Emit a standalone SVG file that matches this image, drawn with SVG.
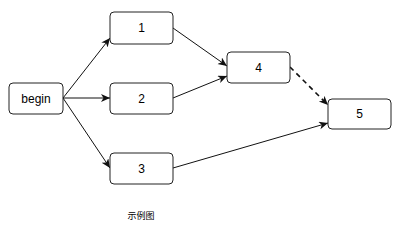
<svg xmlns="http://www.w3.org/2000/svg" width="400" height="225" viewBox="0 0 400 225">
<style>
.n rect{fill:#fff;stroke:#222;stroke-width:1}
.n text{font-family:"Liberation Sans",Arial,sans-serif;font-size:12px;fill:#000;text-anchor:middle;dominant-baseline:central}
.e{fill:none;stroke:#111;stroke-width:1;marker-end:url(#ah)}
.d{fill:none;stroke:#111;stroke-width:1.6;stroke-dasharray:5 4;marker-end:url(#ahd)}
.cap{font-family:"Liberation Sans","Noto Sans CJK SC",sans-serif;font-size:9px;fill:#000;text-anchor:middle}
</style>
<defs>
<marker id="ah" markerWidth="10" markerHeight="10" refX="9" refY="4" orient="auto" markerUnits="userSpaceOnUse">
<path d="M0,0 L9,4 L0,8 L2.5,4 Z" fill="#111"/>
</marker>
<marker id="ahd" markerWidth="10" markerHeight="10" refX="9" refY="4" orient="auto" markerUnits="userSpaceOnUse">
<path d="M0,0 L9,4 L0,8 L2.5,4 Z" fill="#111"/>
</marker>
</defs>
<rect width="400" height="225" fill="#fff"/>
<g id="connectors">
<path class="e" d="M63,98 L110,38"/>
<path class="e" d="M63,98 L110,98"/>
<path class="e" d="M63,98 L110,168"/>
<path class="e" d="M173,28 L227,66"/>
<path class="e" d="M173,98 L227,76"/>
<path class="d" d="M290,67 L328,105"/>
<path class="e" d="M173,168 L328,123"/>
</g>
<g id="begin" class="n"><rect x="9" y="83" width="54" height="31" rx="4"/><text x="36" y="98.5">begin</text></g>
<g id="n1" class="n"><rect x="110" y="12" width="63" height="32" rx="4"/><text x="141.5" y="28">1</text></g>
<g id="n2" class="n"><rect x="110" y="83" width="63" height="31" rx="4"/><text x="141.5" y="98.5">2</text></g>
<g id="n3" class="n"><rect x="110" y="153" width="63" height="31" rx="4"/><text x="141.5" y="168.5">3</text></g>
<g id="n4" class="n"><rect x="227" y="52" width="63" height="31" rx="4"/><text x="258.5" y="67.5">4</text></g>
<g id="n5" class="n"><rect x="328" y="99" width="63" height="30" rx="4"/><text x="359.5" y="114">5</text></g>
<text class="cap" x="141" y="219">示例图</text>
</svg>
